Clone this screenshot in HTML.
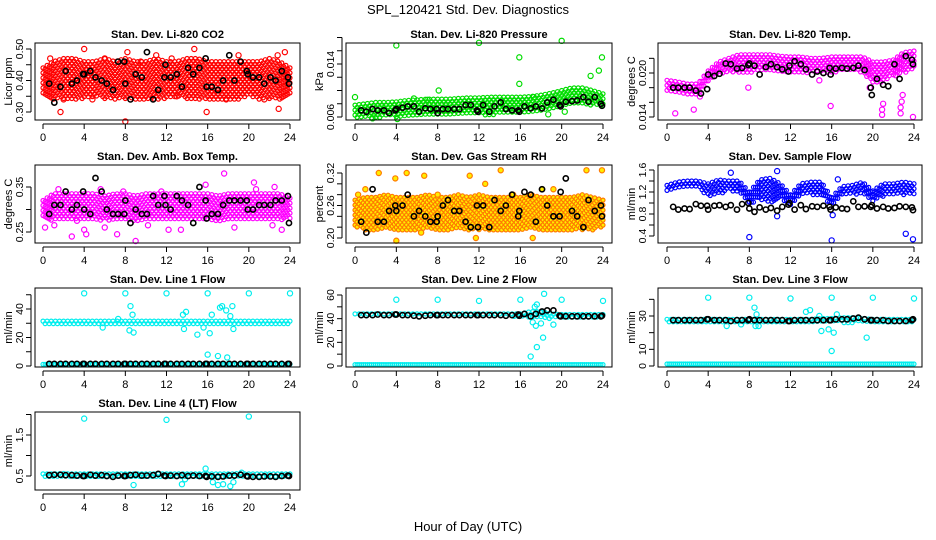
<!DOCTYPE html>
<html><head><meta charset="utf-8"><style>
body{margin:0;background:#fff}
svg{display:block;font-family:"Liberation Sans",sans-serif}
</style></head><body>
<svg id="c" width="936" height="540" xmlns="http://www.w3.org/2000/svg">
<text x="468" y="14" text-anchor="middle" font-size="13">SPL_120421  Std. Dev. Diagnostics</text>
<text x="468" y="531" text-anchor="middle" font-size="13">Hour of Day (UTC)</text>
</svg>
<script>
const blackHours=[0.6,1.1,1.7,2.2,2.8,3.3,3.9,4.0,4.6,5.1,5.7,6.2,6.8,7.3,7.9,8.0,8.5,9.0,9.6,10.1,10.7,11.2,11.8,11.9,12.4,13.0,13.5,14.1,14.6,15.2,15.8,15.9,16.4,17.0,17.5,18.1,18.6,19.2,19.8,19.9,20.4,21.0,21.5,22.1,22.6,23.2,23.8,23.9];
const bandHours=[0,1,2,3,4,5,6,7,8,9,10,11,12,13,14,15,16,17,18,19,20,21,22,23,24];

const co2Black=[0.39,0.33,0.38,0.43,0.39,0.40,0.42,0.42,0.43,0.41,0.40,0.39,0.37,0.46,0.46,0.39,0.34,0.42,0.41,0.49,0.34,0.37,0.41,0.45,0.41,0.42,0.38,0.44,0.42,0.44,0.47,0.38,0.38,0.37,0.40,0.48,0.40,0.46,0.43,0.42,0.41,0.41,0.39,0.41,0.40,0.43,0.41,0.39];
const co2Lo=[0.35,0.34,0.34,0.34,0.34,0.35,0.34,0.34,0.34,0.34,0.34,0.34,0.34,0.35,0.34,0.34,0.34,0.34,0.34,0.34,0.35,0.34,0.34,0.34,0.35];
const co2Hi=[0.44,0.46,0.47,0.47,0.46,0.46,0.47,0.46,0.47,0.46,0.46,0.47,0.46,0.46,0.47,0.47,0.46,0.46,0.46,0.46,0.46,0.46,0.47,0.46,0.44];
const co2Out=[[0.7,0.47],[1.7,0.30],[4,0.50],[8,0.27],[8.2,0.49],[14.7,0.50],[15.9,0.30],[22.9,0.31],[23.5,0.49],[6,0.47],[11,0.48],[19,0.48],[2,0.34],[21.5,0.34],[4.8,0.34],[9.5,0.46],[17.8,0.34],[13,0.35],[22.8,0.48],[12.5,0.47]];

const prBlack=[0.0070,0.0068,0.0072,0.0070,0.0070,0.0066,0.0070,0.0072,0.0074,0.0076,0.0076,0.0068,0.0073,0.0072,0.0072,0.0066,0.0072,0.0072,0.0072,0.0072,0.0078,0.0078,0.0070,0.0068,0.0078,0.0068,0.0076,0.0082,0.0072,0.0070,0.0070,0.0068,0.0076,0.0073,0.0076,0.0073,0.0082,0.0086,0.0078,0.0076,0.0083,0.0084,0.0085,0.0090,0.0083,0.0090,0.0080,0.0077];
const prLo=[0.0058,0.0058,0.0058,0.0060,0.0060,0.0061,0.0062,0.0062,0.0062,0.0062,0.0063,0.0063,0.0063,0.0063,0.0064,0.0064,0.0065,0.0066,0.0068,0.0070,0.0074,0.0078,0.0078,0.0077,0.0076];
const prHi=[0.0078,0.0080,0.0082,0.0082,0.0083,0.0085,0.0086,0.0087,0.0087,0.0087,0.0088,0.0089,0.0089,0.0090,0.0090,0.0090,0.0090,0.0091,0.0093,0.0096,0.0100,0.0104,0.0104,0.0100,0.0095];
const prOut=[[0,0.0090],[4,0.0168],[12,0.0172],[15.9,0.0150],[15.9,0.0110],[20,0.0175],[23.9,0.0150],[23.6,0.0130],[22.8,0.0122],[8.1,0.0100],[1.7,0.0058],[4.1,0.0057],[5.7,0.0088],[7,0.0086],[20.3,0.0068],[17.3,0.0090],[18.7,0.0064]];

const tBlack=[0.0180,0.0180,0.0180,0.0180,0.0176,0.0172,0.0178,0.0198,0.0196,0.0199,0.0213,0.0212,0.0206,0.0207,0.0211,0.0213,0.0210,0.0198,0.0208,0.0212,0.0208,0.0205,0.0202,0.0210,0.0216,0.0212,0.0205,0.0198,0.0202,0.0200,0.0207,0.0198,0.0206,0.0207,0.0206,0.0207,0.0210,0.0204,0.0180,0.0170,0.0192,0.0184,0.0182,0.0212,0.0192,0.0223,0.0218,0.0212];
const tLo=[0.0175,0.0172,0.0170,0.0170,0.0188,0.0198,0.0200,0.0200,0.0200,0.0202,0.0203,0.0202,0.0200,0.0200,0.0200,0.0200,0.0200,0.0202,0.0203,0.0200,0.0185,0.0188,0.0195,0.0200,0.0205];
const tHi=[0.0190,0.0188,0.0185,0.0185,0.0203,0.0215,0.0220,0.0225,0.0225,0.0225,0.0225,0.0223,0.0222,0.0222,0.0220,0.0220,0.0222,0.0222,0.0222,0.0222,0.0215,0.0215,0.0218,0.0228,0.0230];
const tOut=[[0.8,0.0145],[2.6,0.0150],[15.9,0.0155],[20.9,0.0150],[20.9,0.0143],[22.7,0.0145],[22.7,0.0153],[22.8,0.0161],[23.9,0.0140],[3.2,0.0168],[7.9,0.0180],[19.7,0.0180],[14.8,0.0190],[21,0.0158],[22.9,0.0170]];

const abBlack=[0.29,0.31,0.31,0.34,0.30,0.31,0.34,0.30,0.29,0.37,0.34,0.30,0.29,0.29,0.29,0.32,0.27,0.30,0.29,0.29,0.33,0.31,0.33,0.31,0.30,0.33,0.32,0.31,0.27,0.35,0.32,0.28,0.29,0.29,0.31,0.32,0.32,0.32,0.32,0.30,0.30,0.31,0.31,0.31,0.32,0.32,0.33,0.27];
const abLo=[0.28,0.275,0.275,0.275,0.275,0.275,0.275,0.275,0.275,0.275,0.275,0.275,0.275,0.275,0.275,0.275,0.275,0.275,0.275,0.275,0.275,0.275,0.275,0.275,0.28];
const abHi=[0.32,0.335,0.335,0.335,0.335,0.335,0.33,0.335,0.335,0.33,0.335,0.335,0.335,0.335,0.335,0.335,0.335,0.33,0.335,0.335,0.335,0.335,0.335,0.335,0.325];
const abOut=[[0.2,0.26],[1.1,0.265],[2.8,0.24],[3.3,0.275],[4,0.255],[4.2,0.245],[6,0.26],[7.2,0.245],[9,0.23],[10.2,0.265],[12.2,0.255],[13.4,0.255],[17.6,0.38],[20.5,0.36],[20.7,0.345],[22.5,0.35],[18.6,0.26],[22.3,0.265],[23.2,0.255],[1.5,0.345],[5.6,0.345],[7.8,0.34],[15.8,0.355],[11.5,0.34]];

const rhBlack=[0.23,0.21,0.29,0.23,0.23,0.25,0.26,0.25,0.26,0.28,0.24,0.25,0.24,0.23,0.23,0.24,0.26,0.27,0.25,0.25,0.23,0.22,0.26,0.22,0.26,0.22,0.27,0.25,0.26,0.28,0.24,0.25,0.285,0.28,0.23,0.29,0.26,0.24,0.24,0.285,0.31,0.25,0.24,0.22,0.27,0.25,0.26,0.24];
const rhLo=[0.22,0.215,0.215,0.215,0.215,0.215,0.215,0.22,0.215,0.215,0.22,0.215,0.215,0.215,0.215,0.215,0.215,0.215,0.215,0.215,0.215,0.215,0.215,0.215,0.22];
const rhHi=[0.27,0.275,0.275,0.28,0.275,0.275,0.275,0.28,0.275,0.275,0.28,0.275,0.28,0.275,0.275,0.275,0.275,0.28,0.275,0.275,0.275,0.275,0.28,0.275,0.27];
const rhOut=[[2.3,0.32],[3.9,0.31],[5,0.32],[6.7,0.315],[11.1,0.315],[12.6,0.30],[14.1,0.325],[15.3,0.28],[4,0.195],[11.7,0.20],[17.2,0.20],[22.4,0.325],[23.9,0.325],[0.3,0.28],[1,0.29],[8,0.28],[19.2,0.29],[18.1,0.29],[6.4,0.21]];

const sfBlack=[0.93,0.88,0.90,0.89,0.98,0.95,0.95,0.88,0.95,0.96,0.93,0.96,0.88,0.98,1.00,0.90,0.84,0.92,0.88,0.91,0.86,0.93,0.97,1.00,0.88,0.96,0.89,0.94,0.93,0.95,0.93,0.88,0.92,0.90,0.89,1.03,0.93,0.94,0.93,0.96,0.90,0.93,0.90,0.91,0.94,0.93,0.92,0.87];
const sfLo=[1.22,1.25,1.27,1.27,1.10,1.15,1.22,1.20,0.98,1.05,1.00,1.08,0.95,1.15,1.15,1.15,0.92,1.12,1.15,1.18,1.00,1.12,1.15,1.15,1.15];
const sfHi=[1.32,1.38,1.40,1.40,1.35,1.42,1.40,1.40,1.20,1.42,1.45,1.35,1.15,1.35,1.38,1.38,1.10,1.30,1.32,1.38,1.22,1.35,1.35,1.38,1.35];
const sfOut=[[8,0.38],[16,0.32],[23.2,0.44],[23.9,0.34],[10.7,0.76],[16.1,0.78],[6.2,1.55],[10.7,1.58],[16.6,1.43]];

const l1Black=[1.5,1.5,1.5,1.5,1.5,1.5,1.5,1.5,1.5,1.5,1.5,1.5,1.5,1.5,1.5,1.5,1.5,1.5,1.5,1.5,1.5,1.5,1.5,1.5,1.5,1.5,1.5,1.5,1.5,1.5,1.5,1.5,1.5,1.5,1.5,1.5,1.5,1.5,1.5,1.5,1.5,1.5,1.5,1.5,1.5,1.5,1.5,1.5];
const l1Lo=[29,29,29,29,29,29,29,29,29,29,29,29,29,29,29,29,29,29,29,29,29,29,29,29,29];
const l1Hi=[31.5,31.5,31.5,31.5,31.5,31.5,31.5,31.5,31.5,31.5,31.5,31.5,31.5,31.5,31.5,31.5,31.5,31.5,31.5,31.5,31.5,31.5,31.5,31.5,31.5];
const l1Out=[[4,51],[8,51],[12,51],[16,51],[20,51],[24,51],[8.5,42],[8.7,36],[8.4,25],[8.8,23.5],[13.6,36],[13.9,38],[13.7,26],[15,22],[15.6,27],[16,8],[16.2,23],[16.4,36],[17,7],[17.2,41],[17.4,42],[17.8,39],[17.9,6],[18.2,35],[18.4,42],[18.5,26],[7.3,33],[5.8,27]];

const l2Black=[43,43,43,43.5,43,43,43.5,43.5,43,43,42.5,42,42.5,43,43,43,43,43,43,43,43,43,43,43,43,43,43,43,42.5,43,43.5,42.5,44,42,44,46,47,47,42.5,42,42,42,42,42,42,42,42,42.5];
const l2Lo=[42,42,42,42,42,42,42,42,42,42,42,42,42,42,42,42,41,41,40,40,41,41,41,41,41];
const l2Hi=[44,44,44,44,44,44,44,44,44,44,44,44,44,44,44,44,44,46,46,44,43.5,43.5,43.5,43.5,43.5];
const l2Out=[[4,56],[8,56],[12,55],[16,56],[20,56],[24,55],[17,8],[17.6,16],[18.2,24],[18.3,61],[17.2,37],[17.5,34],[17.4,50],[17.6,52],[18,36],[19.2,35],[17.9,45]];

const l3Black=[27.5,27.5,27.5,27.5,27.5,27.5,28,28,27.5,27.5,27.5,27,27.5,27.5,27.5,28,27.5,27.5,27.5,27.5,27.5,27.5,27,27,27.5,27.5,27.5,27.5,27.5,27.5,27.5,27.5,28,28,28,28.5,29,28,27.5,27.5,27.5,27.5,27,27,27,27,27.5,28];
const l3Lo=[26,26,26,26,26,26,26,26,26,26,26,26,26,26,26,26,26,26,26,26,26.5,26.5,26.5,26.5,26.5];
const l3Hi=[28,28,28,28,28,28,28,28,28,28,28,28,28,28,28,28.5,28.5,29,29,28.5,28,28,28,28,28];
const l3Out=[[4,41],[8,41],[12,40.5],[16,41],[20,41],[24,40.5],[8.5,35],[8.7,31],[8.6,24],[8.9,24],[13.5,32.5],[13.9,33.5],[14.8,30],[15,21],[15.7,22],[16,9],[16.2,20],[16.5,31],[19.4,17],[7.2,25],[5.8,24]];

const l4Black=[0.52,0.53,0.53,0.52,0.52,0.51,0.50,0.50,0.53,0.51,0.52,0.50,0.48,0.51,0.50,0.50,0.52,0.53,0.51,0.51,0.52,0.55,0.51,0.50,0.51,0.50,0.52,0.50,0.51,0.50,0.50,0.48,0.49,0.48,0.49,0.51,0.51,0.53,0.50,0.49,0.48,0.48,0.49,0.49,0.48,0.50,0.51,0.50];
const l4Lo=[0.47,0.47,0.47,0.47,0.47,0.47,0.47,0.47,0.47,0.47,0.47,0.47,0.47,0.47,0.47,0.47,0.46,0.45,0.45,0.47,0.47,0.47,0.47,0.47,0.47];
const l4Hi=[0.55,0.55,0.56,0.55,0.55,0.55,0.55,0.55,0.55,0.55,0.55,0.55,0.55,0.55,0.55,0.55,0.55,0.55,0.55,0.56,0.55,0.55,0.55,0.55,0.55];
const l4Out=[[4,1.90],[12,1.87],[20,1.95],[8.8,0.28],[13.5,0.30],[15.8,0.68],[16.5,0.35],[17,0.28],[17.5,0.30],[18.2,0.25],[18.5,0.35],[13.8,0.42],[19.3,0.58]];

const NS="http://www.w3.org/2000/svg";
const svg=document.getElementById('c');
function mk(tag,attrs,parent){const e=document.createElementNS(NS,tag);for(const k in attrs)e.setAttribute(k,attrs[k]);(parent||svg).appendChild(e);return e;}
const cols=[{bl:35,br:300,x0:43,x1:290},{bl:346,br:612,x0:355,x1:603},{bl:658,br:922,x0:667,x1:914}];
const rows=[{t:43,b:120},{t:165,b:243},{t:288,b:367},{t:412,b:490}];
const panels=[
 {title:"Stan. Dev. Li-820 CO2",ylab:"Licor ppm",c:0,r:0,v:[0.30,0.50],p:[112,49],ticks:[0.30,0.35,0.40,0.45,0.50],labels:[0.30,0.40,0.50],dec:2,col:"#ff0000",fill:"none",black:co2Black,lo:co2Lo,hi:co2Hi,out:co2Out},
 {title:"Stan. Dev. Li-820 Pressure",ylab:"kPa",c:1,r:0,v:[0.006,0.014],p:[117,64],ticks:[0.006,0.008,0.010,0.012,0.014,0.016,0.018],labels:[0.006,0.014],dec:3,col:"#00dd00",fill:"none",black:prBlack,lo:prLo,hi:prHi,out:prOut},
 {title:"Stan. Dev. Li-820 Temp.",ylab:"degrees C",c:2,r:0,v:[0.014,0.020],p:[117,73],ticks:[0.014,0.016,0.018,0.020,0.022],labels:[0.014,0.020],dec:3,col:"#ff00ff",fill:"none",black:tBlack,lo:tLo,hi:tHi,out:tOut},
 {title:"Stan. Dev. Amb. Box Temp.",ylab:"degrees C",c:0,r:1,v:[0.25,0.35],p:[232,187],ticks:[0.25,0.30,0.35],labels:[0.25,0.35],dec:2,col:"#ff00ff",fill:"none",black:abBlack,lo:abLo,hi:abHi,out:abOut},
 {title:"Stan. Dev. Gas Stream RH",ylab:"percent",c:1,r:1,v:[0.20,0.32],p:[238,173],ticks:[0.20,0.22,0.24,0.26,0.28,0.30,0.32],labels:[0.20,0.26,0.32],dec:2,col:"#ff7a00",fill:"#ffee00",black:rhBlack,lo:rhLo,hi:rhHi,out:rhOut},
 {title:"Stan. Dev. Sample Flow",ylab:"ml/min",c:2,r:1,v:[0.4,1.6],p:[236,170],ticks:[0.4,0.6,0.8,1.0,1.2,1.4,1.6],labels:[0.4,0.8,1.2,1.6],dec:1,col:"#0000ff",fill:"none",black:sfBlack,lo:sfLo,hi:sfHi,out:sfOut},
 {title:"Stan. Dev. Line 1 Flow",ylab:"ml/min",c:0,r:2,v:[0,40],p:[366,309],ticks:[0,10,20,30,40,50],labels:[0,20,40],dec:0,col:"#00eeee",fill:"none",black:l1Black,lo:l1Lo,hi:l1Hi,out:l1Out,base:true},
 {title:"Stan. Dev. Line 2 Flow",ylab:"ml/min",c:1,r:2,v:[0,60],p:[366,295],ticks:[0,10,20,30,40,50,60],labels:[0,20,40,60],dec:0,col:"#00eeee",fill:"none",black:l2Black,lo:l2Lo,hi:l2Hi,out:l2Out,base:true},
 {title:"Stan. Dev. Line 3 Flow",ylab:"ml/min",c:2,r:2,v:[0,30],p:[366,316],ticks:[0,10,20,30,40],labels:[0,10,30],dec:0,col:"#00eeee",fill:"none",black:l3Black,lo:l3Lo,hi:l3Hi,out:l3Out,base:true},
 {title:"Stan. Dev. Line 4 (LT) Flow",ylab:"ml/min",c:0,r:3,v:[0.5,1.5],p:[476,435],ticks:[0.5,1.0,1.5,2.0],labels:[0.5,1.5],dec:1,col:"#00eeee",fill:"none",black:l4Black,lo:l4Lo,hi:l4Hi,out:l4Out}
];
function interp(arr,h){const i=Math.min(23,Math.floor(h));const f=h-i;return arr[i]*(1-f)+arr[i+1]*f;}
panels.forEach((P,pi)=>{
 const C=cols[P.c],R=rows[P.r];
 const g=mk('g',{});
 
 
 const xs=h=>C.x0+(C.x1-C.x0)*h/24;
 const ys=v=>P.p[0]+(P.p[1]-P.p[0])*(v-P.v[0])/(P.v[1]-P.v[0]);
 const cx=(C.bl+C.br)/2;
 const t=mk('text',{x:cx,y:R.t-5,'text-anchor':'middle','font-size':11,'font-weight':'bold'},g);t.textContent=P.title;
 
 
 const dots=mk('g',{fill:P.fill,stroke:P.col,'stroke-width':1.2},g);
 
 
 let col=0;
 for(let h=0;h<=24.001;h+=0.2){
  const yl=ys(interp(P.lo,h)),yh=ys(interp(P.hi,h));
  const top=Math.min(yl,yh),bot=Math.max(yl,yh);
  const step=5;
  const off=(col%2)*step/2;
  for(let y=top+off;y<=bot;y+=step){
   mk('circle',{cx:xs(h).toFixed(1),cy:y.toFixed(1),r:2},dots);
  }
  if(P.base){
   const by=ys(1.2);
   mk('circle',{cx:xs(h).toFixed(1),cy:by.toFixed(1),r:2},dots);
  }
  col++;
 }
 P.out.forEach(o=>{
  const c=mk('circle',{cx:xs(o[0]),cy:ys(o[1]),r:2.6},dots);
  
  
 });
 const bk=mk('g',{fill:'none',stroke:'#000','stroke-width':1.6},g);
 
 
 blackHours.forEach((h,i)=>{mk('circle',{cx:xs(h),cy:ys(P.black[i]),r:2.6},bk);});
 const b=mk('rect',{x:C.bl,y:R.t,width:C.br-C.bl,height:R.b-R.t,fill:'none',stroke:'#000','stroke-width':1},g);
 
 
 const xa=mk('g',{},g);
 
 
 mk('line',{x1:C.x0,x2:C.x1,y1:R.b+4,y2:R.b+4,stroke:'#000'},xa);
 [0,4,8,12,16,20,24].forEach(h=>{
  mk('line',{x1:xs(h),x2:xs(h),y1:R.b+4,y2:R.b+9,stroke:'#000'},xa);
  const tx=mk('text',{x:xs(h),y:R.b+21,'text-anchor':'middle','font-size':11},xa);tx.textContent=h;
 });
 const ya=mk('g',{},g);
 
 
 const ax=C.bl-4;
 mk('line',{x1:ax,x2:ax,y1:ys(P.ticks[0]),y2:ys(P.ticks[P.ticks.length-1]),stroke:'#000'},ya);
 P.ticks.forEach(v=>{mk('line',{x1:ax-5,x2:ax,y1:ys(v),y2:ys(v),stroke:'#000'},ya);});
 P.labels.forEach(v=>{
  const y=ys(v);const tx=mk('text',{x:ax-8,y:y,'text-anchor':'middle','font-size':10.5,transform:`rotate(-90 ${ax-8} ${y})`},ya);tx.textContent=v.toFixed(P.dec);
 });
 const ymid=(R.t+R.b)/2;
 const yl=mk('text',{x:C.bl-23,y:ymid,'text-anchor':'middle','font-size':11,transform:`rotate(-90 ${C.bl-23} ${ymid})`},ya);yl.textContent=P.ylab;
 
 
});
</script>
</body></html>
